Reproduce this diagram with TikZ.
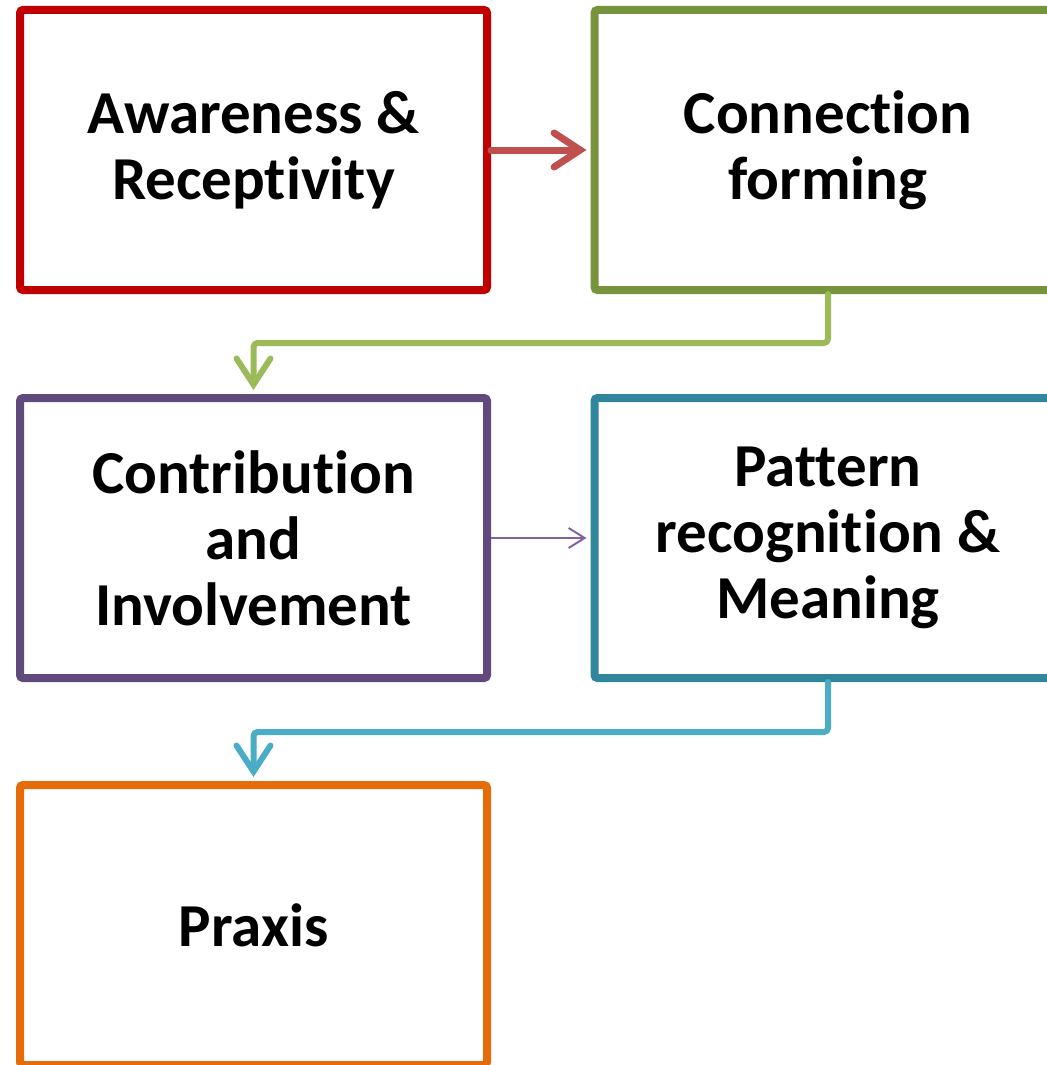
\documentclass[tikz,border=0pt]{standalone}
\usepackage{fontspec}
\setmainfont{Carlito}[Ligatures=NoCommon]
\usepackage{xcolor}
\usetikzlibrary{arrows.meta}
\definecolor{boxred}{HTML}{C00000}
\definecolor{boxgreen}{HTML}{77933C}
\definecolor{boxpurple}{HTML}{604A7B}
\definecolor{boxteal}{HTML}{31859C}
\definecolor{boxorange}{HTML}{E46C0A}
\definecolor{arrred}{HTML}{C0504D}
\definecolor{arrgreen}{HTML}{9BBB59}
\definecolor{arrpurple}{HTML}{8064A2}
\definecolor{arrteal}{HTML}{4BACC6}
\tikzset{
    BX/.style ={rectangle, minimum width = 233.5pt, minimum height = 140pt, line width=4pt,
        rounded corners=1.5pt, align=center, font=\fontsize{30.5}{33}\selectfont\bfseries},
    AR1/.style ={line width=3.5pt, line cap=round, line join=round, rounded corners=2pt,
        -{Straight Barb[length=13pt,width=17pt,line cap=round]}, shorten >=2pt},
    AR2/.style ={line width=1pt, -{Straight Barb[length=8pt,width=10pt]}, shorten >=2pt}
}

\begin{document}
\begin{tikzpicture}[x=0.5pt,y=-0.5pt]
        \useasboundingbox (0,0) rectangle (1047,1065);
        \node[BX,draw=boxred] (aware) at (253.5,150) {Awareness \&\\Receptivity};
        \node[BX,draw=boxgreen] (conn) at (828,150) {Connection\\forming};
        \node[BX,draw=boxpurple] (contrib) at (253.5,538) {Contribution\\and\\Involvement};
        \node[BX,draw=boxteal] (pattern) at (828,538) {Pattern\\recognition \&\\Meaning};
        \node[BX,draw=boxorange] (praxis) at (253.5,925) {Praxis};
        \coordinate (g1) at (828,343);
        \coordinate (t1) at (828,732);
        \draw[AR1,draw=arrred] (aware.east) -- (conn.west);
        \draw[AR1,draw=arrgreen,line width=3pt] (conn.south) -- (g1) -| (contrib.north);
        \draw[AR2,draw=arrpurple] (contrib.east) -- (pattern.west);
        \draw[AR1,draw=arrteal,line width=3pt] (pattern.south) -- (t1) -| (praxis.north);
    \end{tikzpicture}
\end{document}
